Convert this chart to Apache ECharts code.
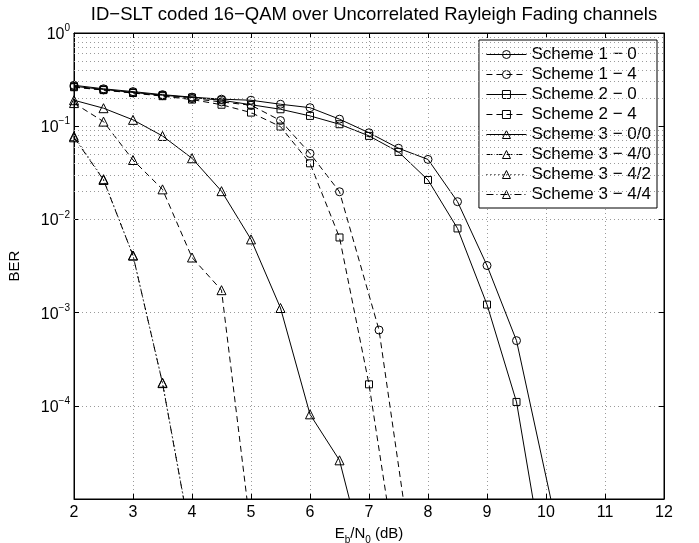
<!DOCTYPE html>
<html>
<head>
<meta charset="utf-8">
<script src="https://cdn.jsdelivr.net/npm/echarts@6/dist/echarts.min.js"></script>
<style>
html,body{margin:0;padding:0;background:#fff;overflow:hidden;}
#chart{width:699px;height:543px;}
</style>
</head>
<body>
<div id="chart"></div>
<script>
// ---- data ----
const seriesNames = ['Scheme 1 − 0','Scheme 1 − 4','Scheme 2 − 0','Scheme 2 − 4',
  'Scheme 3 − 0/0','Scheme 3 − 4/0','Scheme 3 − 4/2','Scheme 3 − 4/4'];

const s1_0_x = [2,2.5,3,3.5,4,4.5,5,5.5,6,6.5,7,7.5,8,8.5,9,9.5,10.5];
const s1_0_y = [0.275,0.252,0.235,0.218,0.205,0.195,0.19,0.172,0.158,0.119,0.085,0.058,0.044,0.0155,0.0032,0.0005,6e-7];

const s1_4_x = [2,2.5,3,3.5,4,4.5,5,5.5,6,6.5,7.17,7.7];
const s1_4_y = [0.265,0.245,0.228,0.213,0.198,0.182,0.168,0.115,0.051,0.0198,0.00065,3e-6];

const s2_0_x = [2,2.5,3,3.5,4,4.5,5,5.5,6,6.5,7,7.5,8,8.5,9,9.5,10];
const s2_0_y = [0.268,0.248,0.23,0.215,0.203,0.19,0.17,0.152,0.129,0.105,0.0787,0.053,0.0265,0.008,0.00122,0.00011,1.5e-6];

const s2_4_x = [2,2.5,3,3.5,4,4.5,5,5.5,6,6.5,7,7.5];
const s2_4_y = [0.262,0.244,0.227,0.21,0.193,0.17,0.14,0.099,0.040,0.0064,0.00017,1.5e-6];

const s3_00_x = [2,2.5,3,3.5,4,4.5,5,5.5,6,6.5,7];
const s3_00_y = [0.19,0.156,0.117,0.0786,0.0453,0.0201,0.0061,0.00112,8.1e-5,2.6e-5,1.5e-6];

const s3_40_x = [2,2.5,3,3.5,4,4.5,5];
const s3_40_y = [0.177,0.112,0.0434,0.021,0.0039,0.00174,4.4e-6];

const s3_42_x = [2,2.5,3,3.5,4];
const s3_42_y = [0.078,0.027,0.0041,0.000177,3.3e-6];

const s3_44_x = [2,2.5,3,3.5,4];
const s3_44_y = [0.076,0.0265,0.0041,0.000175,3.2e-6];

const xTicks = [2,3,4,5,6,7,8,9,10,11,12];
const yDecades = [-5,-4,-3,-2,-1,0];

// ---- build ----
const FONT = 'Liberation Sans, Arial, Helvetica, sans-serif';
function pairs(xs, ys){ return xs.map((x,i)=>[x, ys[i]]); }

const styles = [
  {sym:'circle', size:8, type:'solid'},
  {sym:'circle', size:8, type:[6,4]},
  {sym:'rect', size:7, type:'solid'},
  {sym:'rect', size:7, type:[6,4]},
  {sym:'triangle', size:9, type:'solid'},
  {sym:'triangle', size:9, type:[6,4]},
  {sym:'triangle', size:9, type:[1,3]},
  {sym:'triangle', size:9, type:[7,3,1,3]}
];
const datasets = [
  pairs(s1_0_x,s1_0_y), pairs(s1_4_x,s1_4_y), pairs(s2_0_x,s2_0_y), pairs(s2_4_x,s2_4_y),
  pairs(s3_00_x,s3_00_y), pairs(s3_40_x,s3_40_y), pairs(s3_42_x,s3_42_y), pairs(s3_44_x,s3_44_y)
];

const minorVals = [];
yDecades.slice(0,-1).forEach(d=>{ for(let k=2;k<=9;k++) minorVals.push(k*Math.pow(10,d)); });

const gridLine = {show:true, lineStyle:{color:'#9a9a9a', type:[1,3], width:1}};

const series = datasets.map((d,i)=>({
  name: seriesNames[i],
  type:'line',
  data:d,
  symbol: styles[i].sym,
  symbolSize: styles[i].size,
  showAllSymbol:true,
  clip:true,
  lineStyle:{color:'#000', width:1, type:styles[i].type},
  itemStyle:{color:'rgba(255,255,255,0)', borderColor:'#000', borderWidth:1},
  emphasis:{disabled:true},
  animation:false,
  z: 3
}));

series.push({
  type:'line', data:[], silent:true, animation:false,
  markLine:{
    silent:true, symbol:'none', animation:false,
    label:{show:false},
    lineStyle:{color:'#9a9a9a', type:[1,3], width:1},
    data: minorVals.map(v=>({yAxis:v}))
  }
});

function yLabel(v){
  const e = Math.round(Math.log10(v));
  if (e === -5) return '';
  const ex = e < 0 ? '−' + (-e) : String(e);
  return '{b|10}{p|' + ex + '}';
}

const option = {
  backgroundColor:'#fff',
  animation:false,
  title:{
    text:'ID−SLT coded 16−QAM over Uncorrelated Rayleigh Fading channels',
    left:369, top:0, textAlign:'center',
    textStyle:{fontFamily:FONT, fontSize:18.5, fontWeight:'normal', color:'#000'}
  },
  grid:{left:74, right:35, top:33, bottom:44, containLabel:false, outerBoundsMode:'none',
        show:true, borderColor:'#000', borderWidth:1, backgroundColor:'transparent'},
  legend:{
    data: seriesNames,
    orient:'vertical',
    right: 42, top: 40,
    backgroundColor:'#fff',
    borderColor:'#000', borderWidth:1,
    padding:[6,6,5,7],
    itemWidth:40, itemHeight:10, itemGap:3,
    lineStyle:{width:1},
    itemStyle:{borderWidth:1},
    textStyle:{fontFamily:FONT, fontSize:17, color:'#000'},
    selectedMode:false
  },
  xAxis:[{
    type:'value', min:2, max:12, interval:1,
    axisLine:{show:true, lineStyle:{color:'#000', width:1}},
    axisTick:{show:true, inside:true, length:5, lineStyle:{color:'#000'}},
    axisLabel:{fontFamily:FONT, fontSize:16, color:'#000', margin:6},
    splitLine:gridLine,
    name:'{n|E}{s|b}{n|/N}{s|0}{n| (dB)}',
    nameLocation:'middle', nameGap:21,
    nameTextStyle:{rich:{
      n:{fontFamily:FONT, fontSize:15, color:'#000', lineHeight:18, verticalAlign:'bottom'},
      s:{fontFamily:FONT, fontSize:10, color:'#000', verticalAlign:'bottom', padding:[0,0,-4,0]}
    }}
  },{
    type:'value', min:2, max:12, interval:1, position:'top',
    axisLine:{show:true, lineStyle:{color:'#000', width:1}},
    axisTick:{show:true, inside:true, length:5, lineStyle:{color:'#000'}},
    axisLabel:{show:false}, splitLine:{show:false}
  }],
  yAxis:[{
    type:'log', logBase:10, min:1e-5, max:1,
    axisLine:{show:true, lineStyle:{color:'#000', width:1}},
    axisTick:{show:true, inside:true, length:5, lineStyle:{color:'#000'}},
    axisLabel:{
      formatter: yLabel, margin:4,
      rich:{
        b:{fontFamily:FONT, fontSize:16, color:'#000', verticalAlign:'bottom'},
        p:{fontFamily:FONT, fontSize:10, color:'#000', verticalAlign:'top', padding:[0,0,9,0]}
      }
    },
    splitLine:gridLine,
    name:'BER', nameLocation:'middle', nameGap:52, nameRotate:90,
    nameTextStyle:{fontFamily:FONT, fontSize:15, color:'#000'}
  },{
    type:'log', logBase:10, min:1e-5, max:1, position:'right',
    axisLine:{show:true, lineStyle:{color:'#000', width:1}},
    axisTick:{show:true, inside:true, length:5, lineStyle:{color:'#000'}},
    axisLabel:{show:false}, splitLine:{show:false}
  }],
  series: series
};

const chart = echarts.init(document.getElementById('chart'), null, {renderer:'canvas'});
chart.setOption(option);
</script>
</body>
</html>
